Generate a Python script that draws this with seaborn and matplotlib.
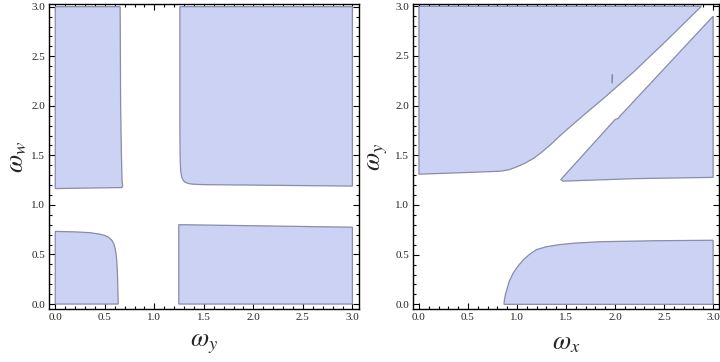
import matplotlib
matplotlib.use('Agg')
import matplotlib.pyplot as plt
from matplotlib.ticker import MultipleLocator
import seaborn as sns

# left panel: omega_y (x) vs omega_w (y), four regions
top_left_x = [0.0, 0.655, 0.66, 0.668, 0.674, 0.68, 0.672, 0.0]
top_left_y = [3.0, 3.0, 2.0, 1.5, 1.25, 1.19, 1.175, 1.165]

top_right_x = [1.258, 1.258, 1.26, 1.263, 1.268, 1.277, 1.29, 1.31, 1.34, 1.38, 1.45, 1.55,
               2.0, 3.0, 3.0]
top_right_y = [3.0, 1.8, 1.5, 1.4, 1.33, 1.28, 1.25, 1.23, 1.217, 1.21, 1.206, 1.204,
               1.2, 1.19, 3.0]

bottom_left_x = [0.0, 0.0, 0.2, 0.35, 0.45, 0.5, 0.54, 0.57, 0.59, 0.605, 0.615, 0.622,
                 0.628, 0.636]
bottom_left_y = [0.0, 0.733, 0.728, 0.72, 0.705, 0.692, 0.672, 0.645, 0.61, 0.56, 0.5, 0.42,
                 0.3, 0.0]

bottom_right_x = [1.247, 1.247, 1.3, 2.0, 3.0, 3.0]
bottom_right_y = [0.0, 0.80, 0.80, 0.79, 0.775, 0.0]

# right panel: omega_x (x) vs omega_y (y), three regions
upper_x = [0.0, 0.0, 2.88, 2.53, 2.19, 1.96, 1.93, 1.915, 1.71, 1.51, 1.42, 1.34, 1.25,
           1.17, 1.08, 1.0, 0.92, 0.83, 0.49, 0.0]
upper_y = [1.31, 3.0, 3.0, 2.66, 2.34, 2.14, 2.115, 2.10, 1.93, 1.76, 1.68, 1.605, 1.53,
           1.47, 1.42, 1.385, 1.355, 1.34, 1.327, 1.31]

wedge_x = [1.446, 1.47, 2.2, 3.0, 3.0, 2.06, 2.03, 2.0]
wedge_y = [1.255, 1.24, 1.265, 1.278, 2.9, 1.905, 1.87, 1.86]

lower_x = [0.867, 0.872, 0.882, 0.895, 0.92, 0.96, 1.01, 1.065, 1.13, 1.2, 1.3, 1.44,
           1.6, 1.85, 2.4, 3.0, 3.0]
lower_y = [0.0, 0.05, 0.10, 0.143, 0.23, 0.313, 0.385, 0.449, 0.505, 0.551, 0.58, 0.602,
           0.617, 0.63, 0.64, 0.645, 0.0]

spur_x = [1.97, 1.972]
spur_y = [2.23, 2.31]

fill_color = '#CBD2F3'
edge_color = '#878DAA'

sns.set_theme(style='ticks')
plt.rcParams['font.family'] = ['Liberation Serif', 'DejaVu Serif']
plt.rcParams['mathtext.fontset'] = 'stix'

fig = plt.figure(figsize=(7.2, 3.62), dpi=100)
ax1 = fig.add_axes([0.0685, 0.1456, 0.4306, 0.8425])
ax2 = fig.add_axes([0.574, 0.1456, 0.4246, 0.8425])

for xs, ys in [(top_left_x, top_left_y), (top_right_x, top_right_y),
               (bottom_left_x, bottom_left_y), (bottom_right_x, bottom_right_y)]:
    ax1.fill(xs, ys, facecolor=fill_color, edgecolor=edge_color, lw=0.9)

for xs, ys in [(upper_x, upper_y), (wedge_x, wedge_y), (lower_x, lower_y)]:
    ax2.fill(xs, ys, facecolor=fill_color, edgecolor=edge_color, lw=0.9)
sns.lineplot(x=spur_x, y=spur_y, ax=ax2, color=edge_color, lw=1.2, sort=False)

ax1.set_xlim(-0.06, 3.07)
ax1.set_ylim(-0.053, 3.024)
ax2.set_xlim(-0.058, 3.06)
ax2.set_ylim(-0.05, 3.02)

for ax in (ax1, ax2):
    ax.xaxis.set_major_locator(MultipleLocator(0.5))
    ax.yaxis.set_major_locator(MultipleLocator(0.5))
    ax.xaxis.set_minor_locator(MultipleLocator(0.1))
    ax.yaxis.set_minor_locator(MultipleLocator(0.1))
    ax.xaxis.set_major_formatter('{x:.1f}')
    ax.yaxis.set_major_formatter('{x:.1f}')
    ax.tick_params(which='both', direction='in', top=True, right=True,
                   color='black', width=0.8, labelsize=8, pad=3)
    ax.tick_params(which='major', length=4.5)
    ax.tick_params(which='minor', length=2.5)
    for s in ax.spines.values():
        s.set_linewidth(1.0)
        s.set_color('black')

ax1.set_xlabel(r'$\omega_y$', fontsize=19, va='center')
ax1.set_ylabel(r'$\omega_w$', fontsize=19, va='center')
ax2.set_xlabel(r'$\omega_x$', fontsize=19, va='center')
ax2.set_ylabel(r'$\omega_y$', fontsize=19, va='center')
ax1.xaxis.set_label_coords(0.5, -0.115)
ax2.xaxis.set_label_coords(0.5, -0.115)
ax1.yaxis.set_label_coords(-0.101, 0.5)
ax2.yaxis.set_label_coords(-0.115, 0.5)

plt.savefig('out.png', dpi=100)
